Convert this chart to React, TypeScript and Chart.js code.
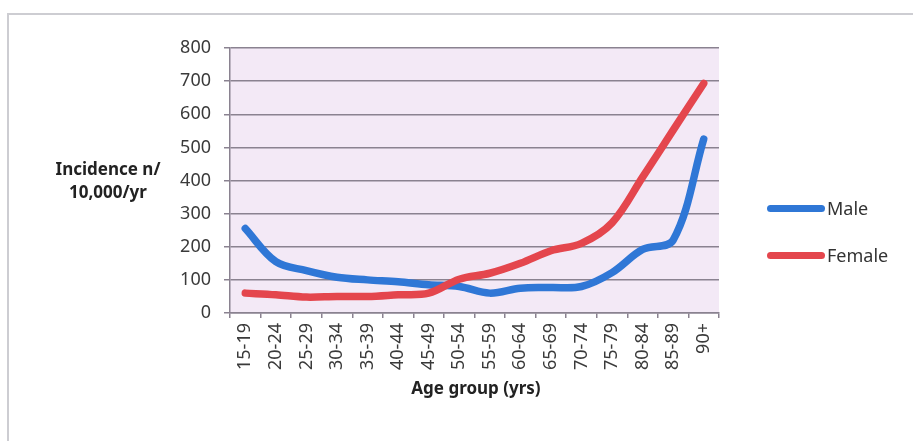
import React, { useEffect, useRef } from "react";
import { Chart, registerables } from "chart.js";

Chart.register(...registerables);

const ageGroups = [
  "15-19", "20-24", "25-29", "30-34", "35-39", "40-44", "45-49", "50-54",
  "55-59", "60-64", "65-69", "70-74", "75-79", "80-84", "85-89", "90+",
];
const maleValues = [255, 155, 128, 108, 100, 94, 85, 80, 60, 75, 77, 80, 122, 192, 220, 525];
const femaleValues = [60, 55, 48, 50, 50, 55, 60, 102, 120, 150, 188, 210, 272, 410, 552, 693];
const yTicks = [0, 100, 200, 300, 400, 500, 600, 700, 800];

const MALE_COLOR = "#2f77d6";
const FEMALE_COLOR = "#e4464d";
const FONT = "'Noto Sans', 'Open Sans', sans-serif";

const bgPlugin = {
  id: "plotBg",
  beforeDraw(chart: any) {
    const { ctx, chartArea } = chart;
    ctx.save();
    ctx.fillStyle = "#f3e9f6";
    ctx.fillRect(chartArea.left, chartArea.top, chartArea.right - chartArea.left, chartArea.bottom - chartArea.top);
    ctx.restore();
  },
};

export default function App() {
  const ref = useRef<HTMLCanvasElement | null>(null);

  useEffect(() => {
    if (!ref.current) return;
    const chart = new Chart(ref.current, {
      type: "line",
      data: {
        labels: ageGroups,
        datasets: [
          {
            label: "Male",
            data: maleValues,
            borderColor: MALE_COLOR,
            backgroundColor: MALE_COLOR,
            borderWidth: 7.5,
            borderCapStyle: "round",
            borderJoinStyle: "round",
            tension: 0.35,
            pointRadius: 0,
            order: 2,
          },
          {
            label: "Female",
            data: femaleValues,
            borderColor: FEMALE_COLOR,
            backgroundColor: FEMALE_COLOR,
            borderWidth: 7.5,
            borderCapStyle: "round",
            borderJoinStyle: "round",
            tension: 0.35,
            pointRadius: 0,
            order: 1,
          },
        ],
      },
      options: {
        animation: false,
        responsive: false,
        maintainAspectRatio: false,
        layout: { padding: { left: 180, right: 194, top: 48, bottom: 0 } },
        plugins: {
          legend: { display: false },
          tooltip: { enabled: false },
          title: { display: false },
        },
        scales: {
          x: {
            type: "category",
            offset: true,
            afterFit(scale: any) {
              scale.height = 128;
            },
            grid: {
              offset: true,
              drawOnChartArea: false,
              drawTicks: true,
              tickLength: 5,
              color: "#8a8290",
              lineWidth: 1.5,
            },
            border: { display: true, color: "#8a8290", width: 1.5 },
            ticks: {
              autoSkip: false,
              maxRotation: 90,
              minRotation: 90,
              padding: 5,
              color: "#3a3a3a",
              font: { family: FONT, size: 18 },
            },
          },
          y: {
            min: 0,
            max: 800,
            afterFit(scale: any) {
              scale.width = 50;
            },
            afterBuildTicks(scale: any) {
              scale.ticks = yTicks.map((v) => ({ value: v }));
            },
            grid: {
              drawTicks: true,
              tickLength: 6,
              color: "#8a8290",
              lineWidth: 1.5,
            },
            border: { display: true, color: "#8a8290", width: 1.5 },
            ticks: {
              padding: 13,
              color: "#3a3a3a",
              font: { family: FONT, size: 18 },
            },
          },
        },
      },
      plugins: [bgPlugin],
    });
    return () => chart.destroy();
  }, []);

  const legendItem = (label: string, color: string, top: number) => (
    <div style={{ position: "absolute", left: 767, top: top - 13, height: 26, display: "flex", alignItems: "center" }}>
      <div style={{ width: 58, height: 7, borderRadius: 4, background: color }} />
      <span style={{ marginLeft: 2, fontFamily: FONT, fontSize: 18, color: "#333" }}>{label}</span>
    </div>
  );

  return (
    <div style={{ position: "fixed", left: 0, top: 0, width: 913, height: 441, background: "#fff", overflow: "hidden" }}>
      <div style={{ position: "absolute", left: 7, top: 13, width: 940, height: 460, border: "2px solid #cdcdd2", boxSizing: "border-box" }} />
      <canvas ref={ref} width={913} height={441} style={{ position: "absolute", left: 0, top: 0, width: 913, height: 441 }} />
      <div style={{ position: "absolute", left: 18, top: 157, width: 180, textAlign: "center", fontFamily: FONT, fontWeight: "bold", fontSize: 17, lineHeight: "23px", color: "#222" }}>
        Incidence n/
        <br />
        10,000/yr
      </div>
      <div style={{ position: "absolute", left: 366, top: 375, width: 220, textAlign: "center", fontFamily: FONT, fontWeight: "bold", fontSize: 17, lineHeight: "26px", color: "#222" }}>
        Age group (yrs)
      </div>
      {legendItem("Male", MALE_COLOR, 208)}
      {legendItem("Female", FEMALE_COLOR, 255)}
    </div>
  );
}
